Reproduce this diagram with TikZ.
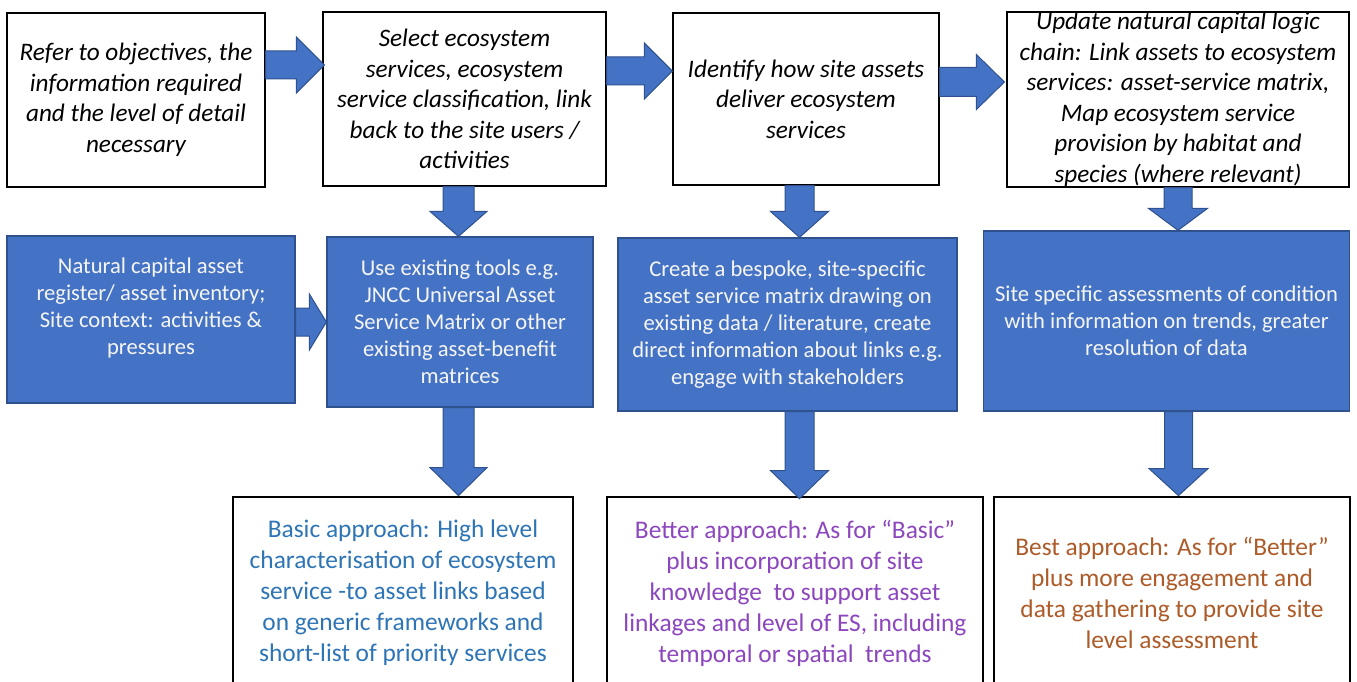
\documentclass[tikz,border=0pt]{standalone}
\usepackage{fontspec}
\setmainfont{Carlito}
\usetikzlibrary{calc}

\definecolor{boxblue}{HTML}{4472C4}
\definecolor{boxline}{HTML}{2F528F}
\definecolor{basictext}{HTML}{2E75B6}
\definecolor{bettertext}{HTML}{8C46BE}
\definecolor{besttext}{HTML}{AD5B28}

\tikzset{
  stagebox/.style={draw=black, line width=1.2pt, fill=white, inner sep=0pt},
  toolbox/.style={draw=boxline, line width=1.2pt, fill=boxblue, inner sep=0pt},
  outcomebox/.style={draw=black, line width=1.2pt, fill=white, inner sep=0pt},
  steptext/.style={align=center, inner sep=0pt, font=\fontsize{25.2}{30.5}\selectfont\itshape},
  tooltext/.style={align=center, inner sep=0pt, text=white!96!black, font=\fontsize{22.6}{27}\selectfont},
  outcometext/.style={align=center, inner sep=0pt, font=\fontsize{25.4}{31}\selectfont},
  blockarrow/.style={fill=boxblue, draw=boxline, line width=1pt, line join=miter},
}

% block arrow pointing right: start point gives x and y, tip gives x
% #3 shaft half width, #4 head half width, #5 head length
\newcommand\rightblock[5]{%
  \filldraw[blockarrow] let \p1=(#1), \p2=(#2) in
    (\x1,\y1+#3) -- (\x2-#5,\y1+#3) -- (\x2-#5,\y1+#4) -- (\x2,\y1)
    -- (\x2-#5,\y1-#4) -- (\x2-#5,\y1-#3) -- (\x1,\y1-#3) -- cycle;}
% block arrow pointing down: start gives y, tip gives x and y
\newcommand\downblock[5]{%
  \filldraw[blockarrow] let \p1=(#1), \p2=(#2) in
    (\x2-#3,\y1) -- (\x2-#3,\y2+#5) -- (\x2-#4,\y2+#5) -- (\x2,\y2)
    -- (\x2+#4,\y2+#5) -- (\x2+#3,\y2+#5) -- (\x2+#3,\y1) -- cycle;}

\begin{document}
\begin{tikzpicture}[x=1pt, y=-1pt]
\useasboundingbox (0,0) rectangle (1357,682);
\clip (0,0) rectangle (1357,682);

% ---- top row: process steps ----
\node[stagebox, minimum width=258pt, minimum height=174pt] (A) at (136,100) {};
\node[stagebox, minimum width=283pt, minimum height=174pt] (B) at (464.5,99) {};
\node[stagebox, minimum width=266pt, minimum height=172pt] (C) at (806,99) {};
\node[stagebox, minimum width=342pt, minimum height=175pt] (D) at (1178,99.5) {};

\node[steptext] (tA) at (A.center) {Refer to objectives, the\\information required\\and the level of detail\\necessary};
\node[steptext] (tB) at (B.center) {Select ecosystem\\services, ecosystem\\service classification, link\\back to the site users /\\activities};
\node[steptext] (tC) at (C.center) {Identify how site assets\\deliver ecosystem\\services};
\node[steptext] (tD) at (D.center) {Update natural capital logic\\chain: Link assets to ecosystem\\services: asset-service matrix,\\Map ecosystem service\\provision by habitat and\\species (where relevant)};

% ---- middle row: tools and data ----
\node[toolbox, minimum width=288pt, minimum height=167pt] (E) at (151,319.5) {};
\node[toolbox, minimum width=266pt, minimum height=170pt] (F) at (460,322) {};
\node[toolbox, minimum width=339pt, minimum height=173pt] (G) at (787.5,324.5) {};
\node[toolbox, minimum width=366pt, minimum height=180pt] (H) at (1166.5,321) {};

\node[tooltext] (tE) at ($(E.center)+(0,-12)$) {Natural capital asset\\register/ asset inventory;\\Site context: activities \&\\pressures};
\node[tooltext] (tF) at (F.center) {Use existing tools e.g.\\JNCC Universal Asset\\Service Matrix or other\\existing asset-benefit\\matrices};
\node[tooltext] (tG) at (G.center) {Create a bespoke, site-specific\\asset service matrix drawing on\\existing data / literature, create\\direct information about links e.g.\\engage with stakeholders};
\node[tooltext] (tH) at (H.center) {Site specific assessments of condition\\with information on trends, greater\\resolution of data};

% ---- bottom row: approaches ----
\node[outcomebox, minimum width=340pt, minimum height=192pt] (I) at (403,593) {};
\node[outcomebox, minimum width=376pt, minimum height=192pt] (J) at (795,593) {};
\node[outcomebox, minimum width=356pt, minimum height=192pt] (K) at (1172,593) {};

\node[outcometext, text=basictext] (tI) at (I.center) {Basic approach: High level\\characterisation of ecosystem\\service -to asset links based\\on generic frameworks and\\short-list of priority services};
\node[outcometext, text=bettertext] (tJ) at (J.center) {Better approach: As for “Basic”\\plus incorporation of site\\knowledge~ to support asset\\linkages and level of ES, including\\temporal or spatial~ trends};
\node[outcometext, text=besttext] (tK) at (K.center) {Best approach: As for “Better”\\plus more engagement and\\data gathering to provide site\\level assessment};

% ---- horizontal block arrows ----
\rightblock{$(A.east)+(0,-35)$}{$(B.west)+(2,0)$}{14pt}{28pt}{28pt}
\rightblock{$(B.east)+(0,-28)$}{C.west}{14pt}{28pt}{28pt}
\rightblock{$(C.east)+(0,-17)$}{$(D.west)+(-2,0)$}{14.5pt}{27.5pt}{28pt}
\rightblock{$(E.east)+(0,2.5)$}{F.west}{14pt}{28pt}{17pt}

% ---- vertical block arrows ----
\downblock{B.south}{$(F.north)+(-1.5,0)$}{15.5pt}{28.5pt}{25pt}
\downblock{F.south}{$(F.south)+(-1.5,88)$}{15.5pt}{28.5pt}{28pt}
\downblock{C.south}{$(G.north)+(12,0)$}{14.5pt}{29pt}{26pt}
\downblock{G.south}{$(G.south)+(12,87)$}{14.5pt}{29pt}{28pt}
\downblock{D.south}{D.south |- H.north}{14pt}{29.5pt}{22pt}
\downblock{H.south}{$(H.south)+(12,84)$}{14pt}{29.5pt}{27pt}
\end{tikzpicture}
\end{document}
